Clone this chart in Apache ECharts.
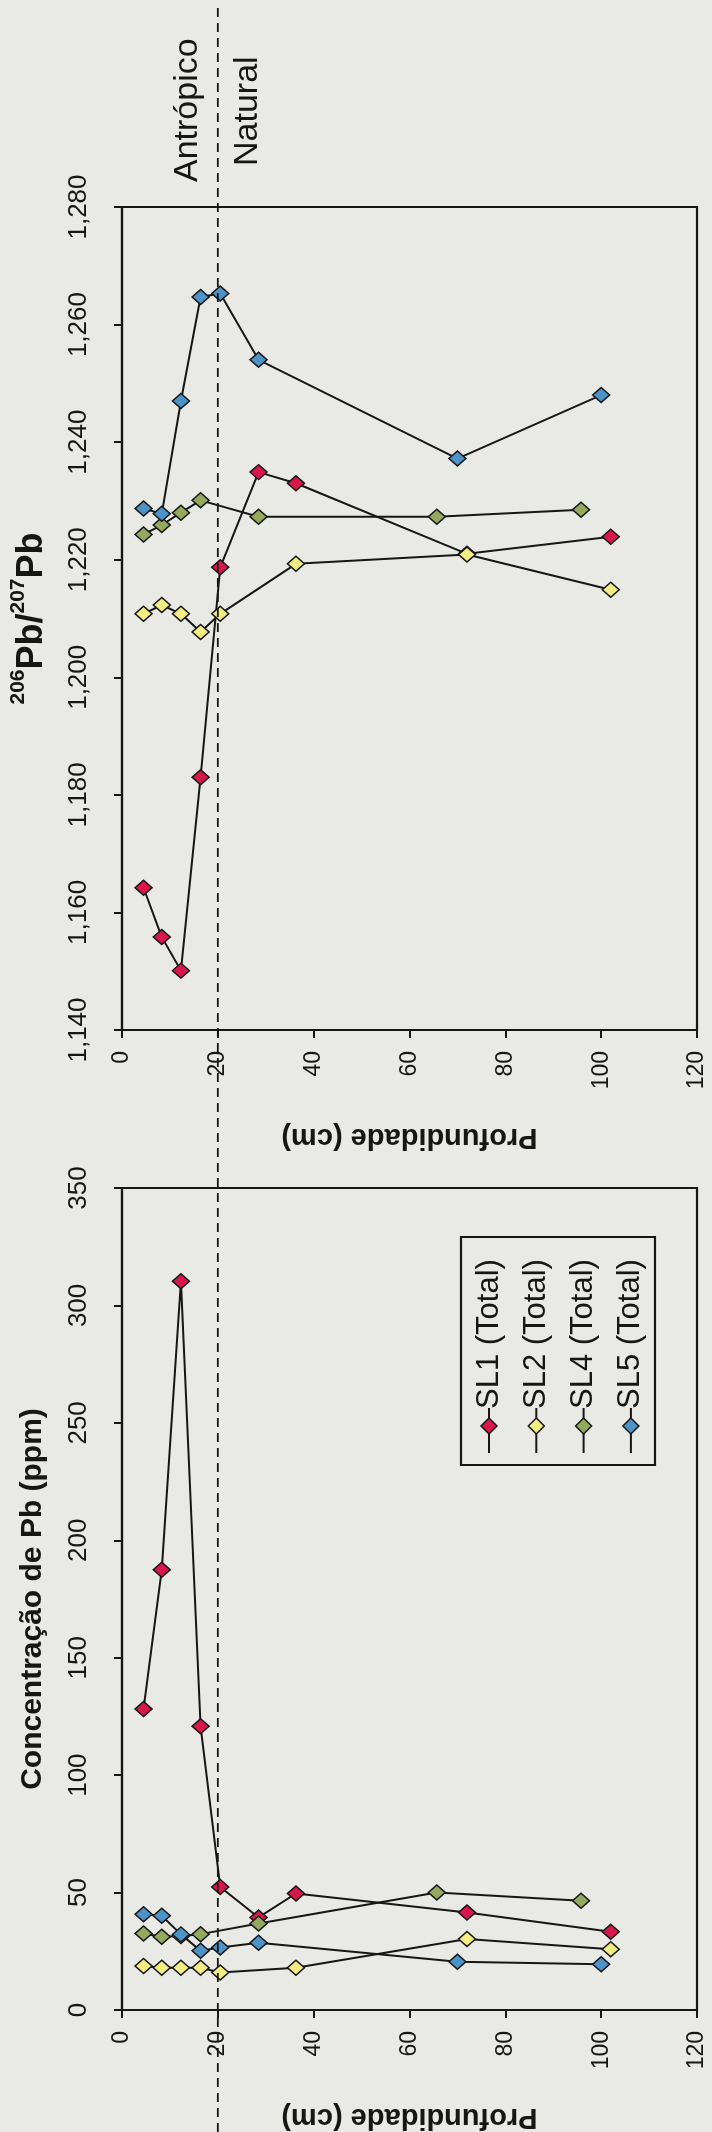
<!DOCTYPE html>
<html>
<head>
<meta charset="utf-8">
<script src="https://cdn.jsdelivr.net/npm/echarts@6/dist/echarts.min.js"></script>
<style>
html,body{margin:0;padding:0;background:#e9e9e5;}
#c{width:712px;height:2132px;}
</style>
</head>
<body>
<div id="c"></div>
<script>
// ---- data ----
const seriesNames = ['SL1 (Total)', 'SL2 (Total)', 'SL4 (Total)', 'SL5 (Total)'];
const depthTicks = [0, 20, 40, 60, 80, 100, 120];
const ratioTicks = ['1,140', '1,160', '1,180', '1,200', '1,220', '1,240', '1,260', '1,280'];
const pbTicks = [0, 50, 100, 150, 200, 250, 300, 350];
const boundaryDepth = 20;
const zoneLabels = ['Antrópico', 'Natural'];

const sl1Depth = [4.5, 8.3, 12.3, 16.4, 20.5, 28.5, 36.3, 72, 102];
const sl1Ratio = [1.1642, 1.1558, 1.1501, 1.1830, 1.2187, 1.2349, 1.2330, 1.2210, 1.2239];
const sl1Pb = [128.2, 187.5, 310.3, 120.8, 52.4, 39.4, 49.6, 41.5, 33.3];

const sl2Depth = [4.5, 8.3, 12.3, 16.4, 20.5, 36.3, 72, 102];
const sl2Ratio = [1.2108, 1.2123, 1.2108, 1.2077, 1.2108, 1.2193, 1.2209, 1.2149];
const sl2Pb = [18.7, 18.0, 18.0, 18.0, 16.0, 18.0, 30.2, 25.9];

const sl4Depth = [4.5, 8.3, 12.3, 16.4, 28.5, 65.7, 95.8];
const sl4Ratio = [1.2243, 1.2259, 1.2280, 1.2301, 1.2273, 1.2273, 1.2285];
const sl4Pb = [32.6, 31.2, 31.5, 32.3, 36.8, 50.0, 46.5];

const sl5Depth = [4.5, 8.3, 12.3, 16.4, 20.5, 28.5, 70, 100];
const sl5Ratio = [1.2287, 1.2278, 1.2470, 1.2647, 1.2653, 1.2540, 1.2372, 1.2480];
const sl5Pb = [40.8, 40.1, 32.2, 25.2, 26.6, 28.6, 20.5, 19.5];

// ---- styles ----
const FONT = '"Liberation Sans", Arial, Helvetica, sans-serif';
const INK = '#161616';
const PAPER = '#e9e9e5';
const colors = ['#d8174b', '#f3ee84', '#93aa5e', '#4c93c8'];

const depths = [sl1Depth, sl2Depth, sl4Depth, sl5Depth];
const ratios = [sl1Ratio, sl2Ratio, sl4Ratio, sl5Ratio];
const pbs = [sl1Pb, sl2Pb, sl4Pb, sl5Pb];

function pairs(xs, ys) { return xs.map((x, i) => [x, ys[i]]); }

const chart = echarts.init(document.getElementById('c'), null, {renderer: 'canvas'});

function depthAxis(gridIndex) {
  return {
    type: 'value', gridIndex: gridIndex, position: 'bottom',
    min: depthTicks[0], max: depthTicks[depthTicks.length - 1], interval: 20,
    name: 'Profundidade (cm)', nameLocation: 'middle', nameGap: 92, nameRotate: 180,
    nameTextStyle: {fontFamily: FONT, fontSize: 29, fontWeight: 'bold', color: INK},
    axisLine: {show: true, onZero: false, lineStyle: {color: INK, width: 2.2}},
    axisTick: {show: true, inside: false, length: 8, lineStyle: {color: INK, width: 2}},
    axisLabel: {rotate: 90, margin: 21, fontFamily: FONT, fontSize: 23, color: INK},
    splitLine: {show: false}
  };
}

const series = [];
seriesNames.forEach((name, k) => {
  const common = {
    name: name, type: 'line', symbol: 'diamond', symbolSize: [17, 15],
    lineStyle: {color: INK, width: 2},
    itemStyle: {color: colors[k], borderColor: INK, borderWidth: 1.5},
    emphasis: {disabled: true}, animation: false, z: 3 + k
  };
  series.push(Object.assign({}, common, {xAxisIndex: 0, yAxisIndex: 0, data: pairs(depths[k], ratios[k])}));
  series.push(Object.assign({}, common, {xAxisIndex: 1, yAxisIndex: 1, data: pairs(depths[k], pbs[k])}));
});

const option = {
  backgroundColor: PAPER,
  animation: false,
  grid: [
    {left: 122, right: 15, top: 207, height: 823, show: true, borderColor: INK, borderWidth: 2.2, backgroundColor: 'transparent'},
    {left: 122, right: 15, top: 1188, height: 824, show: true, borderColor: INK, borderWidth: 2.2, backgroundColor: 'transparent'}
  ],
  xAxis: [depthAxis(0), depthAxis(1)],
  yAxis: [
    {
      type: 'value', gridIndex: 0, min: 1.14, max: 1.28, interval: 0.02,
      name: '{sup|206}{main|Pb/}{sup|207}{main|Pb}', nameLocation: 'middle', nameGap: 72, nameRotate: 90,
      nameTextStyle: {
        rich: {
          main: {fontFamily: FONT, fontSize: 36, fontWeight: 'bold', color: INK, lineHeight: 42, verticalAlign: 'bottom'},
          sup: {fontFamily: FONT, fontSize: 21, fontWeight: 'bold', color: INK, lineHeight: 22, verticalAlign: 'top'}
        }
      },
      axisLine: {show: true, onZero: false, lineStyle: {color: INK, width: 2.2}},
      axisTick: {show: true, length: 8, lineStyle: {color: INK, width: 2}},
      axisLabel: {rotate: 90, margin: 30, fontFamily: FONT, fontSize: 26, color: INK,
        formatter: function (v) { return ratioTicks[Math.round((v - 1.14) / 0.02)] || ''; }},
      splitLine: {show: false}
    },
    {
      type: 'value', gridIndex: 1, min: pbTicks[0], max: pbTicks[pbTicks.length - 1], interval: 50,
      name: 'Concentração de Pb (ppm)', nameLocation: 'middle', nameGap: 74, nameRotate: 90,
      nameTextStyle: {fontFamily: FONT, fontSize: 30, fontWeight: 'bold', color: INK},
      axisLine: {show: true, onZero: false, lineStyle: {color: INK, width: 2.2}},
      axisTick: {show: true, length: 8, lineStyle: {color: INK, width: 2}},
      axisLabel: {rotate: 90, margin: 30, fontFamily: FONT, fontSize: 26, color: INK},
      splitLine: {show: false}
    }
  ],
  series: series
};
chart.setOption(option);

// boundary line + annotations + legend (positions via the axis scale)
const bx = chart.convertToPixel({xAxisIndex: 0}, boundaryDepth);
const legendItems = [];
const legLeft = 461, legTop = 1237, legW = 194, legH = 228;
seriesNames.forEach((name, k) => {
  const cx = 489 + k * 47.3;
  legendItems.push({type: 'line', shape: {x1: cx, y1: 1408, x2: cx, y2: 1453}, style: {stroke: INK, lineWidth: 2}, z: 100});
  legendItems.push({type: 'polygon', shape: {points: [[cx, 1418], [cx + 8, 1426], [cx, 1434], [cx - 8, 1426]]},
    style: {fill: colors[k], stroke: INK, lineWidth: 1.5}, z: 101});
  legendItems.push({type: 'text', x: cx, y: 1409, rotation: Math.PI / 2, z: 101,
    style: {text: name, font: '31px ' + FONT, fill: INK, align: 'left', verticalAlign: 'middle'}});
});

chart.setOption({
  graphic: [
    {type: 'line', shape: {x1: bx, y1: 8, x2: bx, y2: 2132}, style: {stroke: INK, lineWidth: 1.8, lineDash: [9, 6]}, z: 50},
    {type: 'text', x: bx - 30, y: 182, rotation: Math.PI / 2, style: {text: zoneLabels[0], font: '34px ' + FONT, fill: INK, align: 'left', verticalAlign: 'middle'}},
    {type: 'text', x: bx + 30, y: 166, rotation: Math.PI / 2, style: {text: zoneLabels[1], font: '34px ' + FONT, fill: INK, align: 'left', verticalAlign: 'middle'}},
    {type: 'rect', shape: {x: legLeft, y: legTop, width: legW, height: legH}, style: {fill: PAPER, stroke: INK, lineWidth: 2.2}, z: 99}
  ].concat(legendItems)
});
</script>
</body>
</html>
